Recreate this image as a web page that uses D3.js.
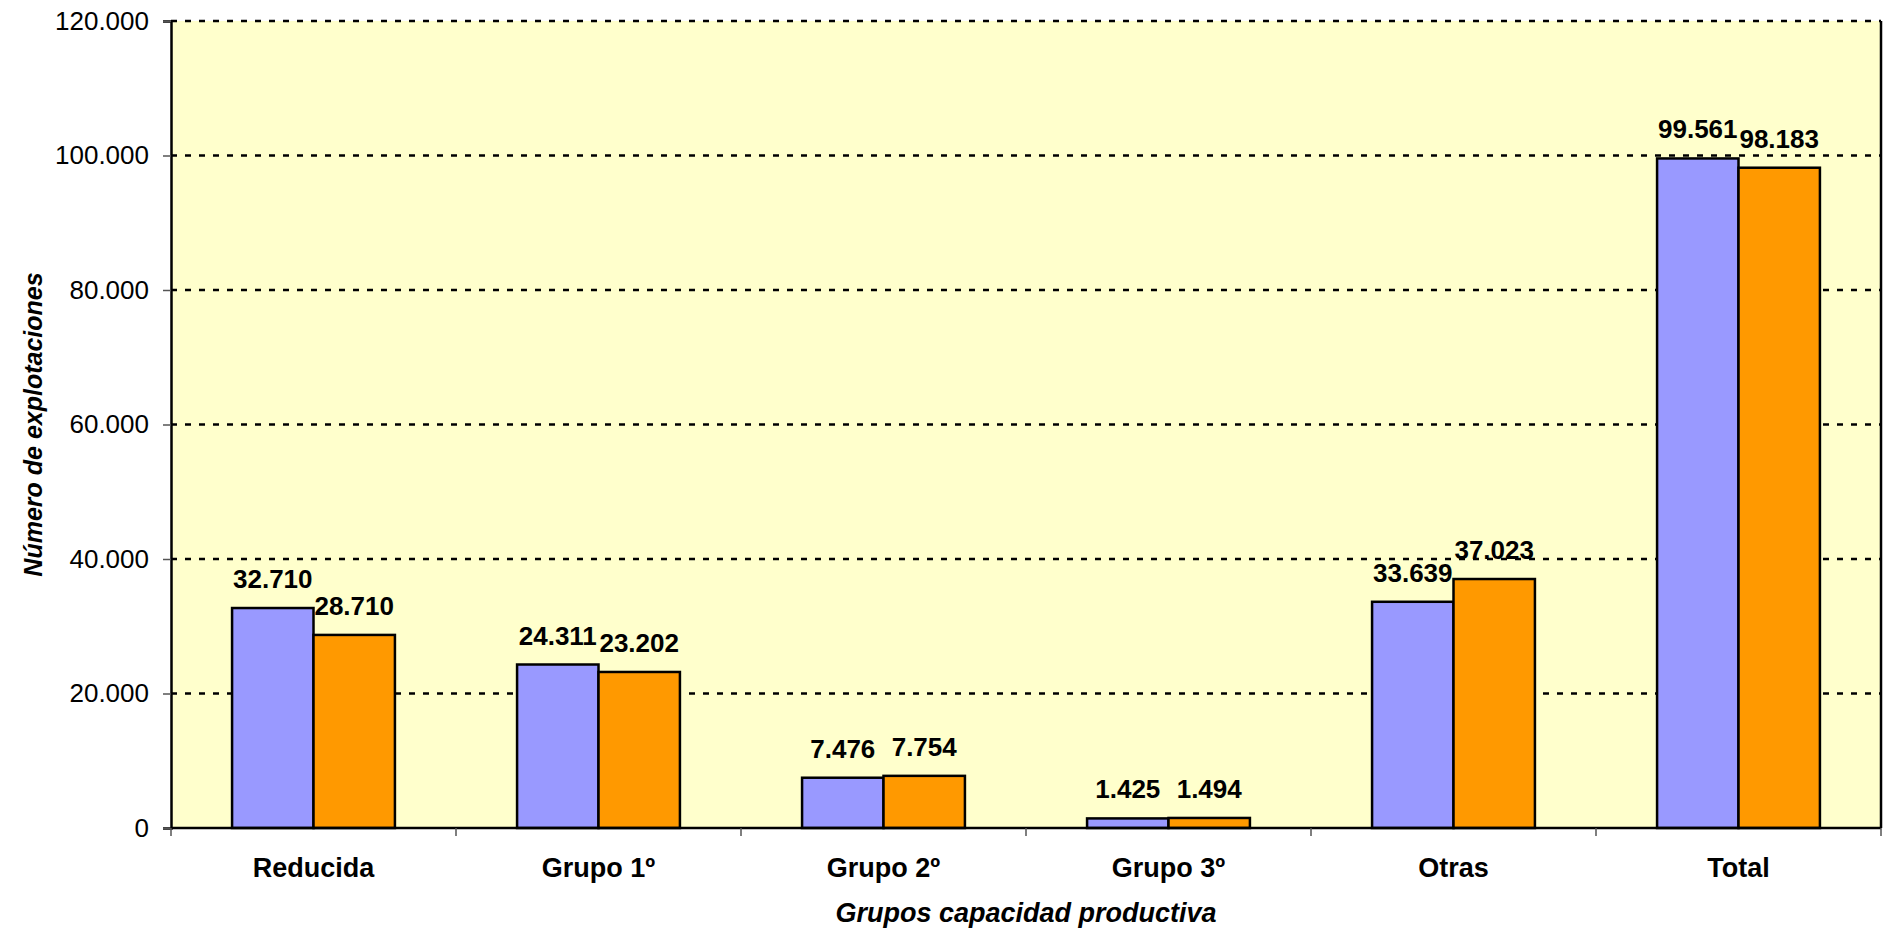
<!DOCTYPE html>
<html>
<head>
  <meta charset="utf-8">
  <style>
    body { margin: 0; background: #fff; }
    svg text { font-family: "Liberation Sans", Arial, sans-serif; fill: #000; }
    svg .grid { stroke: #000; stroke-width: 2.5px; stroke-dasharray: 6,8; }
    svg .ytick text { font-size: 26px; }
    svg .xlabel { font-size: 27px; font-weight: bold; }
    svg .vlabel { font-size: 26px; font-weight: bold; }
    svg .title { font-size: 27px; font-weight: bold; font-style: italic; }
  </style>
</head>
<body>
<script src="https://cdn.jsdelivr.net/npm/d3@7"></script>
<script>
  // data
  var categories = ["Reducida", "Grupo 1º", "Grupo 2º", "Grupo 3º", "Otras", "Total"];
  var serieA = [32710, 24311, 7476, 1425, 33639, 99561];
  var serieB = [28710, 23202, 7754, 1494, 37023, 98183];
  var yTicks = [0, 20000, 40000, 60000, 80000, 100000, 120000];

  var series = [
    { name: "A", values: serieA, color: "#9999FF" },
    { name: "B", values: serieB, color: "#FF9900" }
  ];

  var W = 1884, H = 930;
  var plot = { left: 171, right: 1881, top: 21, bottom: 828 };

  var es = d3.formatLocale({ decimal: ",", thousands: ".", grouping: [3], currency: ["", ""] });
  var fmt = es.format(",d");

  var svg = d3.select("body").append("svg")
      .attr("width", W)
      .attr("height", H);

  var x0 = d3.scaleBand().domain(categories).range([plot.left, plot.right]);
  var x1 = d3.scaleBand().domain(series.map(function (s) { return s.name; }))
      .range([0, x0.bandwidth()])
      .paddingInner(0)
      .paddingOuter(0.75);
  var y = d3.scaleLinear().domain([0, 120000]).range([plot.bottom, plot.top]);

  // plot background
  svg.append("rect")
      .attr("x", plot.left)
      .attr("y", plot.top)
      .attr("width", plot.right - plot.left)
      .attr("height", plot.bottom - plot.top)
      .attr("fill", "#FFFFCC");

  // grid lines
  svg.append("g").selectAll("line")
      .data(yTicks.filter(function (d) { return d > 0; }))
    .enter().append("line")
      .classed("grid", true)
      .attr("x1", plot.left)
      .attr("x2", plot.right)
      .attr("y1", function (d) { return y(d); })
      .attr("y2", function (d) { return y(d); });

  // right border
  svg.append("line")
      .attr("x1", plot.right).attr("x2", plot.right)
      .attr("y1", plot.top).attr("y2", plot.bottom)
      .attr("stroke", "#000").attr("stroke-width", 2.5);

  // bars
  var groups = svg.append("g").selectAll("g")
      .data(categories)
    .enter().append("g")
      .attr("transform", function (d) { return "translate(" + x0(d) + ",0)"; });

  groups.selectAll("rect")
      .data(function (d, i) {
        return series.map(function (s) { return { name: s.name, value: s.values[i], color: s.color }; });
      })
    .enter().append("rect")
      .attr("x", function (d) { return x1(d.name); })
      .attr("y", function (d) { return y(d.value); })
      .attr("width", x1.bandwidth())
      .attr("height", function (d) { return y(0) - y(d.value); })
      .attr("fill", function (d) { return d.color; })
      .attr("stroke", "#000")
      .attr("stroke-width", 2.5);

  groups.selectAll("text")
      .data(function (d, i) {
        return series.map(function (s) { return { name: s.name, value: s.values[i] }; });
      })
    .enter().append("text")
      .classed("vlabel", true)
      .attr("x", function (d) { return x1(d.name) + x1.bandwidth() / 2; })
      .attr("y", function (d) { return y(d.value) - 20; })
      .attr("text-anchor", "middle")
      .text(function (d) { return fmt(d.value); });

  // y axis
  var yAxis = d3.axisLeft(y).tickValues(yTicks).tickFormat(fmt).tickSize(8).tickPadding(14);
  var ya = svg.append("g")
      .attr("transform", "translate(" + plot.left + ",0)")
      .call(yAxis);
  ya.selectAll(".tick").classed("ytick", true);
  ya.selectAll(".tick text").attr("font-size", null).attr("font-family", null);
  ya.selectAll("line").attr("stroke", "#555").attr("stroke-width", 1.5);
  ya.select(".domain").attr("stroke", "#000").attr("stroke-width", 2.5);

  // x axis
  var xa = svg.append("g")
      .attr("transform", "translate(0," + plot.bottom + ")");
  xa.append("line")
      .attr("x1", plot.left).attr("x2", plot.right)
      .attr("stroke", "#000").attr("stroke-width", 2.5);
  xa.selectAll(".xt")
      .data(categories.map(function (c) { return x0(c); }).concat([plot.right]))
    .enter().append("line")
      .attr("x1", function (d) { return d; })
      .attr("x2", function (d) { return d; })
      .attr("y1", 0).attr("y2", 8)
      .attr("stroke", "#555").attr("stroke-width", 1.5);
  xa.selectAll("text")
      .data(categories)
    .enter().append("text")
      .classed("xlabel", true)
      .attr("x", function (d) { return x0(d) + x0.bandwidth() / 2; })
      .attr("y", 49)
      .attr("text-anchor", "middle")
      .text(function (d) { return d; });

  // axis titles
  svg.append("text")
      .classed("title", true)
      .attr("x", (plot.left + plot.right) / 2)
      .attr("y", 922)
      .attr("text-anchor", "middle")
      .text("Grupos capacidad productiva");

  svg.append("text")
      .classed("title", true)
      .style("font-size", "25px")
      .attr("transform", "translate(42," + (plot.top + plot.bottom) / 2 + ") rotate(-90)")
      .attr("text-anchor", "middle")
      .text("Número de explotaciones");
</script>
</body>
</html>
